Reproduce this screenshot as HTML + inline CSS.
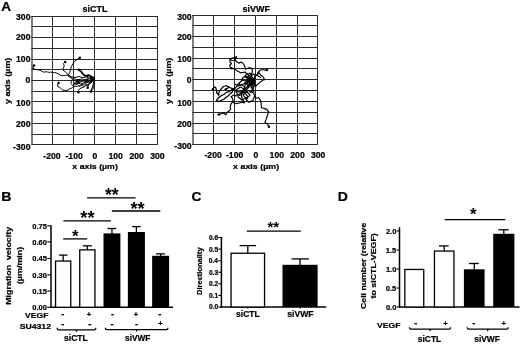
<!DOCTYPE html>
<html><head><meta charset="utf-8"><title>Figure</title>
<style>
html,body{margin:0;padding:0;background:#fff;}
body{width:520px;height:344px;overflow:hidden;}
svg{display:block;font-family:"Liberation Sans",Arial,Helvetica,sans-serif;font-weight:bold;fill:#000;}
text{stroke:#000;stroke-width:0.22px;}
text.ns{stroke:none;}
</style></head><body>
<svg width="520" height="344" viewBox="0 0 520 344">
<rect x="0" y="0" width="520" height="344" fill="#fff"/>
<line x1="32.00" y1="16.00" x2="32.00" y2="145.00" stroke="#555" stroke-width="1.5"/>
<line x1="52.50" y1="16.00" x2="52.50" y2="145.00" stroke="#2a2a2a" stroke-width="1.0"/>
<line x1="73.50" y1="16.00" x2="73.50" y2="145.00" stroke="#2a2a2a" stroke-width="1.0"/>
<line x1="94.50" y1="16.00" x2="94.50" y2="145.00" stroke="#2a2a2a" stroke-width="1.0"/>
<line x1="115.50" y1="16.00" x2="115.50" y2="145.00" stroke="#2a2a2a" stroke-width="1.0"/>
<line x1="136.50" y1="16.00" x2="136.50" y2="145.00" stroke="#2a2a2a" stroke-width="1.0"/>
<line x1="157.50" y1="16.00" x2="157.50" y2="145.00" stroke="#2a2a2a" stroke-width="1.0"/>
<line x1="31.40" y1="16.50" x2="158.00" y2="16.50" stroke="#2a2a2a" stroke-width="1.0"/>
<line x1="31.40" y1="26.50" x2="158.00" y2="26.50" stroke="#2a2a2a" stroke-width="1.0"/>
<line x1="31.40" y1="37.50" x2="158.00" y2="37.50" stroke="#2a2a2a" stroke-width="1.0"/>
<line x1="31.40" y1="48.50" x2="158.00" y2="48.50" stroke="#2a2a2a" stroke-width="1.0"/>
<line x1="31.40" y1="59.50" x2="158.00" y2="59.50" stroke="#2a2a2a" stroke-width="1.0"/>
<line x1="31.40" y1="69.50" x2="158.00" y2="69.50" stroke="#2a2a2a" stroke-width="1.0"/>
<line x1="31.40" y1="80.50" x2="158.00" y2="80.50" stroke="#2a2a2a" stroke-width="1.0"/>
<line x1="31.40" y1="91.50" x2="158.00" y2="91.50" stroke="#2a2a2a" stroke-width="1.0"/>
<line x1="31.40" y1="101.50" x2="158.00" y2="101.50" stroke="#2a2a2a" stroke-width="1.0"/>
<line x1="31.40" y1="112.50" x2="158.00" y2="112.50" stroke="#2a2a2a" stroke-width="1.0"/>
<line x1="31.40" y1="123.50" x2="158.00" y2="123.50" stroke="#2a2a2a" stroke-width="1.0"/>
<line x1="31.40" y1="134.50" x2="158.00" y2="134.50" stroke="#2a2a2a" stroke-width="1.0"/>
<line x1="31.40" y1="144.50" x2="158.00" y2="144.50" stroke="#2a2a2a" stroke-width="1.0"/>
<text x="16.02" y="20.39" font-size="8.4" textLength="14.44" lengthAdjust="spacingAndGlyphs">300</text>
<text x="16.02" y="40.49" font-size="8.4" textLength="14.44" lengthAdjust="spacingAndGlyphs">200</text>
<text x="16.02" y="62.19" font-size="8.4" textLength="14.44" lengthAdjust="spacingAndGlyphs">100</text>
<text x="25.64" y="83.39" font-size="8.4" textLength="4.81" lengthAdjust="spacingAndGlyphs">0</text>
<text x="16.02" y="106.29" font-size="8.4" textLength="14.44" lengthAdjust="spacingAndGlyphs">100</text>
<text x="16.02" y="127.09" font-size="8.4" textLength="14.44" lengthAdjust="spacingAndGlyphs">200</text>
<text x="13.14" y="149.69" font-size="8.4" textLength="17.32" lengthAdjust="spacingAndGlyphs">-300</text>
<text x="43.35" y="158.69" font-size="8.4" textLength="17.32" lengthAdjust="spacingAndGlyphs">-200</text>
<text x="65.45" y="158.69" font-size="8.4" textLength="17.32" lengthAdjust="spacingAndGlyphs">-100</text>
<text x="92.55" y="158.69" font-size="8.4" textLength="4.81" lengthAdjust="spacingAndGlyphs">0</text>
<text x="108.49" y="158.69" font-size="8.4" textLength="14.44" lengthAdjust="spacingAndGlyphs">100</text>
<text x="129.51" y="158.69" font-size="8.4" textLength="14.44" lengthAdjust="spacingAndGlyphs">200</text>
<text x="150.26" y="158.69" font-size="8.4" textLength="14.44" lengthAdjust="spacingAndGlyphs">300</text>
<line x1="193.00" y1="15.00" x2="193.00" y2="145.00" stroke="#555" stroke-width="1.5"/>
<line x1="213.50" y1="15.00" x2="213.50" y2="145.00" stroke="#2a2a2a" stroke-width="1.0"/>
<line x1="234.50" y1="15.00" x2="234.50" y2="145.00" stroke="#2a2a2a" stroke-width="1.0"/>
<line x1="255.50" y1="15.00" x2="255.50" y2="145.00" stroke="#2a2a2a" stroke-width="1.0"/>
<line x1="276.50" y1="15.00" x2="276.50" y2="145.00" stroke="#2a2a2a" stroke-width="1.0"/>
<line x1="297.50" y1="15.00" x2="297.50" y2="145.00" stroke="#2a2a2a" stroke-width="1.0"/>
<line x1="317.50" y1="15.00" x2="317.50" y2="145.00" stroke="#2a2a2a" stroke-width="1.0"/>
<line x1="192.40" y1="15.50" x2="318.00" y2="15.50" stroke="#2a2a2a" stroke-width="1.0"/>
<line x1="192.40" y1="25.50" x2="318.00" y2="25.50" stroke="#2a2a2a" stroke-width="1.0"/>
<line x1="192.40" y1="36.50" x2="318.00" y2="36.50" stroke="#2a2a2a" stroke-width="1.0"/>
<line x1="192.40" y1="47.50" x2="318.00" y2="47.50" stroke="#2a2a2a" stroke-width="1.0"/>
<line x1="192.40" y1="58.50" x2="318.00" y2="58.50" stroke="#2a2a2a" stroke-width="1.0"/>
<line x1="192.40" y1="68.50" x2="318.00" y2="68.50" stroke="#2a2a2a" stroke-width="1.0"/>
<line x1="192.40" y1="79.50" x2="318.00" y2="79.50" stroke="#2a2a2a" stroke-width="1.0"/>
<line x1="192.40" y1="90.50" x2="318.00" y2="90.50" stroke="#2a2a2a" stroke-width="1.0"/>
<line x1="192.40" y1="101.50" x2="318.00" y2="101.50" stroke="#2a2a2a" stroke-width="1.0"/>
<line x1="192.40" y1="112.50" x2="318.00" y2="112.50" stroke="#2a2a2a" stroke-width="1.0"/>
<line x1="192.40" y1="123.50" x2="318.00" y2="123.50" stroke="#2a2a2a" stroke-width="1.0"/>
<line x1="192.40" y1="133.50" x2="318.00" y2="133.50" stroke="#2a2a2a" stroke-width="1.0"/>
<line x1="192.40" y1="144.50" x2="318.00" y2="144.50" stroke="#2a2a2a" stroke-width="1.0"/>
<text x="177.22" y="20.04" font-size="8.4" textLength="14.44" lengthAdjust="spacingAndGlyphs">300</text>
<text x="177.22" y="40.19" font-size="8.4" textLength="14.44" lengthAdjust="spacingAndGlyphs">200</text>
<text x="177.22" y="61.89" font-size="8.4" textLength="14.44" lengthAdjust="spacingAndGlyphs">100</text>
<text x="186.84" y="83.29" font-size="8.4" textLength="4.81" lengthAdjust="spacingAndGlyphs">0</text>
<text x="177.22" y="105.69" font-size="8.4" textLength="14.44" lengthAdjust="spacingAndGlyphs">100</text>
<text x="177.22" y="126.99" font-size="8.4" textLength="14.44" lengthAdjust="spacingAndGlyphs">200</text>
<text x="174.34" y="149.29" font-size="8.4" textLength="17.32" lengthAdjust="spacingAndGlyphs">-300</text>
<text x="204.45" y="157.99" font-size="8.4" textLength="17.32" lengthAdjust="spacingAndGlyphs">-200</text>
<text x="225.95" y="157.99" font-size="8.4" textLength="17.32" lengthAdjust="spacingAndGlyphs">-100</text>
<text x="253.50" y="157.99" font-size="8.4" textLength="4.81" lengthAdjust="spacingAndGlyphs">0</text>
<text x="269.59" y="157.99" font-size="8.4" textLength="14.44" lengthAdjust="spacingAndGlyphs">100</text>
<text x="290.31" y="157.99" font-size="8.4" textLength="14.44" lengthAdjust="spacingAndGlyphs">200</text>
<text x="310.96" y="157.99" font-size="8.4" textLength="14.44" lengthAdjust="spacingAndGlyphs">300</text>
<text x="82.54" y="11.80" font-size="8.2" textLength="24.84" lengthAdjust="spacingAndGlyphs">siCTL</text>
<text x="242.48" y="11.80" font-size="8.2" textLength="27.55" lengthAdjust="spacingAndGlyphs">siVWF</text>
<text x="72.34" y="169.30" font-size="7.9" textLength="45.50" lengthAdjust="spacingAndGlyphs">x axis (µm)</text>
<text x="233.04" y="169.30" font-size="7.9" textLength="46.11" lengthAdjust="spacingAndGlyphs">x axis (µm)</text>
<text x="-104.07" y="0.00" font-size="7.9" textLength="46.42" lengthAdjust="spacingAndGlyphs" transform="translate(10.40,0) rotate(-90)">y axis (µm)</text>
<text x="-104.07" y="0.00" font-size="7.9" textLength="46.42" lengthAdjust="spacingAndGlyphs" transform="translate(171.40,0) rotate(-90)">y axis (µm)</text>
<text x="1.26" y="10.50" font-size="12.2" textLength="9.79" lengthAdjust="spacingAndGlyphs">A</text>
<path d="M94.3,79.0 L92.5,79.4 L91.0,80.3 L89.1,80.6 L87.0,81.5 L85.0,81.2 L83.0,81.0 L80.7,81.5 L79.0,82.0 L77.2,81.5 L76.0,81.0 L73.5,80.0 L71.7,78.5 L70.5,77.5 L69.0,76.7 L67.7,75.4 L65.7,75.3 L64.2,75.6 L62.3,75.7 L60.3,75.2 L58.8,74.2 L57.2,73.3 L56.0,72.7 L54.4,72.6 L52.6,72.5 L50.8,72.1 L49.4,72.4 L47.8,72.0 L46.5,71.8 L45.0,71.9 L43.4,72.2 L41.5,70.9 L39.5,70.2 L37.3,69.6 L35.7,69.5 L34.3,68.8 L32.6,68.3 L33.2,66.9 L34.0,65.4" fill="none" stroke="#000" stroke-width="1.0" stroke-linejoin="round"/>
<circle cx="34.0" cy="65.4" r="1.25" fill="#000"/>
<path d="M94.3,79.0 L92.6,78.1 L91.0,77.5 L89.2,77.3 L87.0,76.8 L84.8,77.2 L83.0,77.5 L81.0,77.3 L79.0,76.5 L77.2,76.9 L75.0,77.5 L73.3,77.0 L71.0,77.0 L69.5,76.2 L68.1,75.1 L69.6,72.8 L70.0,71.2 L70.8,69.7 L70.8,68.1 L71.5,66.2 L72.5,64.9 L73.1,63.5 L74.6,61.2 L76.2,60.1 L77.3,59.3 L79.8,57.8" fill="none" stroke="#000" stroke-width="1.0" stroke-linejoin="round"/>
<circle cx="79.8" cy="57.8" r="1.25" fill="#000"/>
<path d="M94.3,79.0 L92.3,79.1 L90.0,79.0 L88.1,79.1 L86.0,79.3 L84.2,79.5 L82.0,79.0 L80.0,79.4 L78.0,79.5 L76.2,79.4 L75.0,79.0 L73.4,78.5 L71.5,77.4 L70.4,76.1 L68.8,75.1 L66.9,73.2 L65.7,72.3 L64.6,71.2 L62.7,69.7 L63.5,67.8 L64.2,65.8 L63.5,63.5 L65.2,61.9" fill="none" stroke="#000" stroke-width="1.0" stroke-linejoin="round"/>
<circle cx="65.2" cy="61.9" r="1.25" fill="#000"/>
<path d="M94.3,79.0 L93.8,77.8 L92.0,77.0 L90.8,76.2 L88.5,75.1 L86.5,75.8 L84.6,75.5 L82.7,73.9 L81.2,71.6 L78.8,69.7" fill="none" stroke="#000" stroke-width="1.8" stroke-linejoin="round"/>
<circle cx="78.8" cy="69.7" r="1.25" fill="#000"/>
<path d="M94.3,79.0 L92.6,79.4 L91.1,80.5 L90.0,81.0 L87.7,81.8 L86.0,83.0 L83.9,84.0 L82.0,84.5 L79.7,85.2 L78.0,86.0 L76.4,86.4 L74.8,86.3 L72.5,87.5 L71.3,88.2 L69.4,89.0 L68.1,90.0 L66.3,90.5 L64.4,90.3 L62.9,90.2 L61.6,89.4 L60.5,88.2 L59.5,87.2 L57.9,86.7 L57.5,84.4 L58.6,83.1" fill="none" stroke="#000" stroke-width="1.0" stroke-linejoin="round"/>
<circle cx="58.6" cy="83.1" r="1.25" fill="#000"/>
<path d="M94.3,79.0 L92.9,80.3 L92.0,82.0 L90.5,83.0 L89.4,83.8 L88.0,85.0 L85.7,85.9 L84.0,87.0 L81.9,87.8 L80.0,88.5 L78.5,90.5 L78.4,92.2" fill="none" stroke="#000" stroke-width="1.0" stroke-linejoin="round"/>
<circle cx="78.4" cy="92.2" r="1.25" fill="#000"/>
<path d="M94.3,79.0 L94.2,81.1 L93.5,83.0 L93.0,85.1 L92.5,87.0 L91.5,89.0 L90.8,91.5" fill="none" stroke="#000" stroke-width="1.0" stroke-linejoin="round"/>
<circle cx="90.8" cy="91.5" r="1.25" fill="#000"/>
<path d="M94.3,79.0 L94.3,80.4 L94.3,82.5 L93.9,84.0 L93.9,85.9 L93.2,87.4 L93.0,89.2 L91.0,91.3" fill="none" stroke="#000" stroke-width="1.0" stroke-linejoin="round"/>
<path d="M94.3,79.0 L92.4,80.3 L91.0,81.5 L89.7,82.4 L89.0,84.0 L88.1,85.6 L87.7,87.7" fill="none" stroke="#000" stroke-width="1.1" stroke-linejoin="round"/>
<circle cx="87.7" cy="87.7" r="1.25" fill="#000"/>
<path d="M94.3,79.0 L92.8,79.7 L91.5,81.0 L89.7,81.5 L88.5,82.5 L86.5,82.2 L85.0,82.0 L83.2,83.0 L82.0,83.5 L80.6,83.0 L79.0,83.0 L77.0,84.5 L75.0,83.5" fill="none" stroke="#000" stroke-width="1.0" stroke-linejoin="round"/>
<circle cx="75.0" cy="83.5" r="1.25" fill="#000"/>
<path d="M94.3,79.0 L93.0,80.4 L92.0,82.0 L90.4,83.0 L89.0,84.5 L87.7,84.6 L86.0,84.0 L84.7,85.0 L83.5,86.0 L81.0,85.5 L79.0,87.0" fill="none" stroke="#000" stroke-width="0.9" stroke-linejoin="round"/>
<path d="M80.0,79.5 L78.0,81.5 L79.5,83.0 L77.5,83.5 L76.5,81.5 L78.0,80.0" fill="none" stroke="#000" stroke-width="1.5" stroke-linejoin="round"/>
<path d="M94.3,79.0 L92.5,77.5 L91.0,79.0 L92.0,80.5 L90.5,78.0" fill="none" stroke="#000" stroke-width="1.4000000000000001" stroke-linejoin="round"/>
<path d="M88.5,75.1 L87.0,77.0 L88.5,79.0 L86.5,80.5" fill="none" stroke="#000" stroke-width="1.0" stroke-linejoin="round"/>
<circle cx="86.5" cy="80.5" r="1.25" fill="#000"/>
<path d="M74.8,86.3 L72.5,85.5 L71.4,83.7 L70.9,82.5 L72.0,80.0" fill="none" stroke="#000" stroke-width="0.9" stroke-linejoin="round"/>
<path d="M253.2,80.7 L252.5,78.9 L252.3,77.3 L251.5,76.0 L251.5,74.4 L252.3,72.0 L252.3,69.3 L250.4,67.8 L248.9,67.9 L247.3,68.5 L245.4,69.3 L245.0,67.0 L243.8,64.3 L241.9,62.4 L240.4,62.4 L238.8,63.1 L236.5,61.6 L235.0,59.7 L235.8,58.5 L236.5,56.6 L235.3,57.4 L233.5,57.8 L231.6,58.4 L230.0,59.3 L230.0,62.0 L231.5,63.5 L229.6,65.5 L230.4,67.4 L231.5,68.2" fill="none" stroke="#000" stroke-width="1.15" stroke-linejoin="round"/>
<circle cx="231.5" cy="68.2" r="1.25" fill="#000"/>
<path d="M253.2,80.7 L251.3,80.3 L250.0,79.5 L248.5,79.0 L247.0,78.0 L244.6,76.6 L246.5,74.3 L245.4,72.0 L243.1,72.4 L240.4,72.8 L238.9,71.8 L237.7,71.2 L236.6,70.6 L235.0,69.3 L232.3,68.5" fill="none" stroke="#000" stroke-width="1.15" stroke-linejoin="round"/>
<path d="M230.0,59.3 L232.0,60.5 L233.8,60.3 L235.0,59.7" fill="none" stroke="#000" stroke-width="1.15" stroke-linejoin="round"/>
<path d="M253.2,80.7 L254.1,79.3 L254.5,77.5 L255.5,76.3 L256.9,75.1 L257.7,73.0 L258.8,71.6 L260.3,70.1 L261.5,69.7 L263.4,69.7 L264.9,70.1 L266.9,70.1" fill="none" stroke="#000" stroke-width="1.15" stroke-linejoin="round"/>
<circle cx="266.9" cy="70.1" r="1.25" fill="#000"/>
<path d="M253.2,80.7 L254.2,82.3 L254.5,84.0 L256.5,85.8 L257.5,84.2 L258.8,83.5 L260.0,82.0 L261.9,81.2 L263.0,80.0 L264.9,79.7 L263.5,77.8 L262.6,76.2 L261.0,75.5 L260.3,74.3 L259.0,73.0 L258.8,71.6" fill="none" stroke="#000" stroke-width="1.15" stroke-linejoin="round"/>
<path d="M258.8,71.6 L258.2,73.7 L256.9,75.1 L259.0,76.5 L261.0,77.4" fill="none" stroke="#000" stroke-width="1.05" stroke-linejoin="round"/>
<path d="M253.2,80.7 L251.8,80.7 L249.5,80.7 L248.0,81.0 L246.2,80.6 L245.0,81.0 L243.7,80.5 L241.8,80.3 L240.4,82.1 L238.8,83.4 L237.4,84.9 L237.0,86.3 L235.8,87.4 L234.5,88.8 L233.4,88.8 L231.2,88.2 L229.5,87.2 L227.9,86.7 L226.5,85.7 L225.3,86.0 L223.4,86.5 L222.1,88.1 L221.0,89.0 L220.2,90.2 L219.0,92.0 L218.6,93.4 L218.8,95.3 L218.1,94.4 L216.8,93.0 L216.5,90.3 L215.7,87.6 L213.8,86.8 L213.0,89.2" fill="none" stroke="#000" stroke-width="1.25" stroke-linejoin="round"/>
<circle cx="213.0" cy="89.2" r="1.25" fill="#000"/>
<path d="M253.2,80.7 L251.2,81.2 L250.2,81.4 L248.1,81.6 L246.5,81.8 L245.4,83.4 L244.9,85.7 L244.7,87.4 L243.8,89.1 L243.1,90.6 L242.6,91.8 L241.3,91.7 L239.3,91.8 L238.0,92.0 L236.3,91.0 L234.7,89.8 L233.4,88.8 L231.0,90.3 L228.8,91.6 L227.2,92.2 L225.7,92.9 L224.4,94.1 L222.9,94.9 L221.5,95.3 L220.3,96.6 L219.0,97.4 L217.7,98.8 L216.5,100.3 L218.8,101.5 L219.9,101.1 L221.6,100.1 L223.4,99.5 L224.8,98.5 L225.8,97.5 L227.2,96.5 L228.4,95.8 L229.2,94.6 L230.5,93.4 L231.8,92.6 L232.8,90.7 L233.4,88.8" fill="none" stroke="#000" stroke-width="1.25" stroke-linejoin="round"/>
<path d="M229.5,87.2 L227.0,88.5 L225.7,89.5" fill="none" stroke="#000" stroke-width="1.25" stroke-linejoin="round"/>
<circle cx="225.7" cy="89.5" r="1.25" fill="#000"/>
<path d="M253.2,80.7 L251.8,82.0 L250.7,82.9 L249.0,84.0 L248.1,85.3 L247.0,86.8 L246.0,88.0 L244.9,89.6 L243.9,91.4 L243.0,92.9 L241.8,94.2 L240.3,94.9 L238.0,96.0 L236.0,95.9 L234.0,95.0 L232.8,95.6 L231.1,96.8 L232.6,98.3 L233.0,101.0 L231.8,102.9 L230.8,104.4 L230.3,106.0 L230.2,107.3 L230.7,109.1 L229.2,111.0 L226.8,112.5 L226.5,114.1 L225.3,114.8 L224.2,112.9 L221.5,113.7 L218.8,114.6" fill="none" stroke="#000" stroke-width="1.15" stroke-linejoin="round"/>
<circle cx="218.8" cy="114.6" r="1.25" fill="#000"/>
<path d="M253.2,80.7 L251.5,82.5 L250.5,84.0 L248.5,85.5 L247.4,87.1 L245.6,88.3 L244.6,89.4 L243.7,90.6 L242.8,92.8 L241.5,94.0 L241.5,96.2 L242.0,97.6 L242.3,99.4 L243.4,101.0 L243.8,102.2" fill="none" stroke="#000" stroke-width="1.25" stroke-linejoin="round"/>
<circle cx="243.8" cy="102.2" r="1.25" fill="#000"/>
<path d="M233.0,101.0 L233.5,102.3 L234.5,103.7 L236.7,103.4 L238.8,103.3 L240.1,102.8 L241.8,102.5 L243.8,102.2" fill="none" stroke="#000" stroke-width="1.15" stroke-linejoin="round"/>
<path d="M253.2,80.7 L252.6,81.6 L251.6,83.3 L250.4,84.5 L250.0,86.0 L248.6,87.5 L247.0,89.0 L245.5,91.1 L244.6,92.5 L245.9,94.1 L246.4,94.8 L247.7,96.3 L246.4,98.1 L245.8,99.4 L247.0,100.5 L248.5,102.1 L250.0,101.9 L251.8,100.8 L253.1,100.5 L253.3,99.2 L254.2,97.3 L254.6,95.5" fill="none" stroke="#000" stroke-width="1.15" stroke-linejoin="round"/>
<path d="M253.2,80.7 L252.8,82.5 L253.0,85.0 L253.4,86.6 L253.1,88.7 L253.7,90.3 L253.8,91.7 L253.9,93.9 L254.6,95.5 L255.0,97.1 L256.1,98.2 L258.5,97.5 L259.4,98.7 L260.4,100.2 L260.8,102.0 L261.1,103.2 L261.1,104.5 L261.4,106.1 L261.5,107.8 L262.7,108.0 L264.6,108.6 L266.9,109.4 L267.5,110.5 L268.9,112.1 L267.9,113.6 L267.3,115.5 L266.9,117.3 L266.1,119.4 L265.6,120.7 L265.0,122.5 L267.3,124.0 L268.0,125.0 L268.9,126.7" fill="none" stroke="#000" stroke-width="1.15" stroke-linejoin="round"/>
<circle cx="268.9" cy="126.7" r="1.25" fill="#000"/>
<path d="M253.2,80.7 L251.4,79.0 L250.0,78.0 L248.0,80.0 L248.9,81.5 L249.5,83.0 L252.0,84.5 L253.0,83.5 L254.5,82.5 L254.6,80.4 L254.0,79.0 L251.5,77.5 L249.5,75.5 L252.0,74.0" fill="none" stroke="#000" stroke-width="1.25" stroke-linejoin="round"/>
<path d="M253.2,80.7 L253.5,83.0 L252.5,84.2 L251.0,85.5 L250.0,84.3 L249.0,82.5 L249.9,81.3 L251.0,80.0 L252.7,81.1 L254.0,81.5 L254.6,83.3 L255.5,84.5 L254.4,85.9 L253.0,87.0 L250.5,88.0" fill="none" stroke="#000" stroke-width="1.25" stroke-linejoin="round"/>
<path d="M253.2,80.7 L251.0,79.0 L249.0,77.0 L247.9,78.1 L247.0,79.5 L248.5,82.0 L246.5,84.0 L248.5,86.0 L249.1,84.5 L250.5,83.5" fill="none" stroke="#000" stroke-width="1.25" stroke-linejoin="round"/>
<path d="M253.2,80.7 L254.0,78.0 L255.5,75.5 L253.5,74.0 L251.5,75.5 L250.0,73.0 L248.0,74.5 L246.5,73.0" fill="none" stroke="#000" stroke-width="1.15" stroke-linejoin="round"/>
<path d="M253.2,80.7 L252.0,82.0 L252.5,84.0 L251.5,86.5 L252.5,89.0 L251.5,91.0 L253.0,93.0" fill="none" stroke="#000" stroke-width="1.25" stroke-linejoin="round"/>
<path d="M241.8,80.3 L242.1,79.1 L243.0,77.5 L245.5,76.0 L247.5,77.0 L249.0,75.0" fill="none" stroke="#000" stroke-width="1.25" stroke-linejoin="round"/>
<path d="M238.8,83.4 L240.5,85.5 L241.8,84.5 L243.5,84.0 L245.5,82.5 L247.5,84.0" fill="none" stroke="#000" stroke-width="1.25" stroke-linejoin="round"/>
<path d="M244.6,89.4 L246.5,91.5 L249.0,90.5 L250.5,92.5 L252.5,91.5" fill="none" stroke="#000" stroke-width="1.15" stroke-linejoin="round"/>
<path d="M236.0,90.0 L237.0,89.3 L239.0,88.1 L240.0,87.0 L241.8,87.8 L244.0,89.0 L242.8,90.3 L241.7,91.6 L241.0,93.0 L238.8,94.4 L237.0,95.0 L237.0,93.4 L236.1,92.0 L236.0,90.0" fill="none" stroke="#000" stroke-width="1.15" stroke-linejoin="round"/>
<path d="M243.0,95.0 L244.2,93.9 L245.3,92.9 L247.0,92.0 L248.5,93.5 L250.0,95.0 L248.8,96.3 L247.6,97.5 L247.0,99.0 L245.3,97.6 L244.0,96.0 L243.0,95.0" fill="none" stroke="#000" stroke-width="1.15" stroke-linejoin="round"/>
<path d="M238.0,97.0 L239.2,97.8 L240.7,99.0 L242.0,100.0 L243.5,99.3 L244.8,98.6 L246.0,97.5" fill="none" stroke="#000" stroke-width="1.15" stroke-linejoin="round"/>
<path d="M235.0,84.0 L236.4,84.9 L238.0,86.0 L239.9,85.0 L241.0,84.5 L242.7,85.6 L244.0,86.5" fill="none" stroke="#000" stroke-width="1.15" stroke-linejoin="round"/>
<circle cx="253.2" cy="80.7" r="1.8" fill="#000"/>
<text x="1.26" y="200.70" font-size="12.2" textLength="10.18" lengthAdjust="spacingAndGlyphs">B</text>
<line x1="51.00" y1="225.20" x2="51.00" y2="308.05" stroke="#000" stroke-width="1.5"/>
<line x1="50.25" y1="307.30" x2="173.10" y2="307.30" stroke="#000" stroke-width="1.5"/>
<line x1="47.30" y1="307.30" x2="51.00" y2="307.30" stroke="#000" stroke-width="1.1"/>
<text x="32.31" y="310.13" font-size="7.5" textLength="14.60" lengthAdjust="spacingAndGlyphs">0.00</text>
<line x1="47.30" y1="291.00" x2="51.00" y2="291.00" stroke="#000" stroke-width="1.1"/>
<text x="32.22" y="293.83" font-size="7.5" textLength="14.60" lengthAdjust="spacingAndGlyphs">0.15</text>
<line x1="47.30" y1="274.85" x2="51.00" y2="274.85" stroke="#000" stroke-width="1.1"/>
<text x="32.31" y="277.68" font-size="7.5" textLength="14.60" lengthAdjust="spacingAndGlyphs">0.30</text>
<line x1="47.30" y1="258.50" x2="51.00" y2="258.50" stroke="#000" stroke-width="1.1"/>
<text x="32.22" y="261.33" font-size="7.5" textLength="14.60" lengthAdjust="spacingAndGlyphs">0.45</text>
<line x1="47.30" y1="241.90" x2="51.00" y2="241.90" stroke="#000" stroke-width="1.1"/>
<text x="32.31" y="244.73" font-size="7.5" textLength="14.60" lengthAdjust="spacingAndGlyphs">0.60</text>
<line x1="47.30" y1="225.80" x2="51.00" y2="225.80" stroke="#000" stroke-width="1.1"/>
<text x="32.22" y="228.63" font-size="7.5" textLength="14.60" lengthAdjust="spacingAndGlyphs">0.75</text>
<line x1="63.15" y1="260.90" x2="63.15" y2="255.10" stroke="#000" stroke-width="1.3"/>
<line x1="59.10" y1="255.10" x2="67.50" y2="255.10" stroke="#000" stroke-width="1.3"/>
<rect x="55.55" y="261.05" width="15.20" height="46.25" fill="#fff" stroke="#000" stroke-width="1.3"/>
<line x1="87.35" y1="249.70" x2="87.35" y2="245.85" stroke="#000" stroke-width="1.3"/>
<line x1="82.90" y1="245.85" x2="91.85" y2="245.85" stroke="#000" stroke-width="1.3"/>
<rect x="79.75" y="249.85" width="15.20" height="57.45" fill="#fff" stroke="#000" stroke-width="1.3"/>
<line x1="111.95" y1="233.90" x2="111.95" y2="228.50" stroke="#000" stroke-width="1.3"/>
<line x1="107.50" y1="228.50" x2="116.30" y2="228.50" stroke="#000" stroke-width="1.3"/>
<rect x="103.50" y="233.40" width="16.90" height="73.90" fill="#000"/>
<line x1="136.38" y1="232.50" x2="136.38" y2="226.60" stroke="#000" stroke-width="1.3"/>
<line x1="132.15" y1="226.60" x2="140.60" y2="226.60" stroke="#000" stroke-width="1.3"/>
<rect x="127.85" y="232.00" width="17.05" height="75.30" fill="#000"/>
<line x1="160.62" y1="256.30" x2="160.62" y2="253.85" stroke="#000" stroke-width="1.3"/>
<line x1="156.00" y1="253.85" x2="164.90" y2="253.85" stroke="#000" stroke-width="1.3"/>
<rect x="152.15" y="255.80" width="16.95" height="51.50" fill="#000"/>
<line x1="63.20" y1="238.90" x2="87.20" y2="238.90" stroke="#000" stroke-width="1.3"/>
<text class="ns" x="71.88" y="242.00" font-size="17" textLength="6.62" lengthAdjust="spacingAndGlyphs">*</text>
<line x1="63.40" y1="220.90" x2="110.90" y2="220.90" stroke="#000" stroke-width="1.3"/>
<text class="ns" x="80.34" y="223.84" font-size="17.5" textLength="14.28" lengthAdjust="spacingAndGlyphs">**</text>
<line x1="87.15" y1="197.85" x2="135.60" y2="197.85" stroke="#000" stroke-width="1.3"/>
<text class="ns" x="104.95" y="201.14" font-size="17.5" textLength="13.78" lengthAdjust="spacingAndGlyphs">**</text>
<line x1="111.85" y1="211.00" x2="160.30" y2="211.00" stroke="#000" stroke-width="1.3"/>
<text class="ns" x="130.44" y="214.64" font-size="17.5" textLength="14.28" lengthAdjust="spacingAndGlyphs">**</text>
<text x="25.14" y="318.20" font-size="8.1" textLength="23.27" lengthAdjust="spacingAndGlyphs">VEGF</text>
<text x="19.65" y="328.50" font-size="8.1" textLength="31.40" lengthAdjust="spacingAndGlyphs">SU4312</text>
<text x="61.35" y="317.36" font-size="8.5" textLength="3.11" lengthAdjust="spacingAndGlyphs">-</text>
<text x="86.78" y="316.82" font-size="7.6" textLength="4.44" lengthAdjust="spacingAndGlyphs">+</text>
<text x="111.05" y="317.36" font-size="8.5" textLength="3.11" lengthAdjust="spacingAndGlyphs">-</text>
<text x="133.63" y="316.82" font-size="7.6" textLength="4.44" lengthAdjust="spacingAndGlyphs">+</text>
<text x="158.15" y="317.36" font-size="8.5" textLength="3.11" lengthAdjust="spacingAndGlyphs">-</text>
<text x="61.15" y="327.06" font-size="8.5" textLength="3.11" lengthAdjust="spacingAndGlyphs">-</text>
<text x="88.25" y="327.06" font-size="8.5" textLength="3.11" lengthAdjust="spacingAndGlyphs">-</text>
<text x="110.45" y="327.06" font-size="8.5" textLength="3.11" lengthAdjust="spacingAndGlyphs">-</text>
<text x="135.05" y="327.06" font-size="8.5" textLength="3.11" lengthAdjust="spacingAndGlyphs">-</text>
<text x="158.28" y="326.42" font-size="7.6" textLength="4.44" lengthAdjust="spacingAndGlyphs">+</text>
<path d="M57.2,327.8 Q57.2,329.8 58.6,329.8 L94.5,329.8 Q95.9,329.8 95.9,327.8 M76.5,329.8 L76.5,331.7" fill="none" stroke="#000" stroke-width="1.3"/>
<path d="M105.3,327.7 Q105.3,329.7 106.7,329.7 L166.6,329.7 Q168.0,329.7 168.0,327.7 M136.6,329.7 L136.6,331.59999999999997" fill="none" stroke="#000" stroke-width="1.3"/>
<text x="64.10" y="341.00" font-size="8.2" textLength="23.66" lengthAdjust="spacingAndGlyphs">siCTL</text>
<text x="125.11" y="341.00" font-size="8.2" textLength="25.19" lengthAdjust="spacingAndGlyphs">siVWF</text>
<text x="-304.79" y="0.00" font-size="7.9" textLength="77.94" lengthAdjust="spacingAndGlyphs" transform="translate(10.60,0) rotate(-90)">Migration  velocity</text>
<text x="-284.25" y="0.00" font-size="7.9" textLength="37.60" lengthAdjust="spacingAndGlyphs" transform="translate(22.00,0) rotate(-90)">(µm/min)</text>
<text x="191.54" y="200.80" font-size="12.2" textLength="9.94" lengthAdjust="spacingAndGlyphs">C</text>
<line x1="221.40" y1="236.90" x2="221.40" y2="307.75" stroke="#000" stroke-width="1.5"/>
<line x1="220.65" y1="307.00" x2="326.30" y2="307.00" stroke="#000" stroke-width="1.5"/>
<line x1="218.30" y1="307.00" x2="221.40" y2="307.00" stroke="#000" stroke-width="1.1"/>
<text x="209.00" y="309.47" font-size="6.6" textLength="9.17" lengthAdjust="spacingAndGlyphs">0.0</text>
<line x1="218.30" y1="295.42" x2="221.40" y2="295.42" stroke="#000" stroke-width="1.1"/>
<text x="208.91" y="297.89" font-size="6.6" textLength="9.17" lengthAdjust="spacingAndGlyphs">0.1</text>
<line x1="218.30" y1="283.84" x2="221.40" y2="283.84" stroke="#000" stroke-width="1.1"/>
<text x="208.99" y="286.31" font-size="6.6" textLength="9.17" lengthAdjust="spacingAndGlyphs">0.2</text>
<line x1="218.30" y1="272.26" x2="221.40" y2="272.26" stroke="#000" stroke-width="1.1"/>
<text x="208.96" y="274.73" font-size="6.6" textLength="9.17" lengthAdjust="spacingAndGlyphs">0.3</text>
<line x1="218.30" y1="260.68" x2="221.40" y2="260.68" stroke="#000" stroke-width="1.1"/>
<text x="208.76" y="263.15" font-size="6.6" textLength="9.17" lengthAdjust="spacingAndGlyphs">0.4</text>
<line x1="218.30" y1="249.10" x2="221.40" y2="249.10" stroke="#000" stroke-width="1.1"/>
<text x="208.91" y="251.57" font-size="6.6" textLength="9.17" lengthAdjust="spacingAndGlyphs">0.5</text>
<line x1="218.30" y1="237.52" x2="221.40" y2="237.52" stroke="#000" stroke-width="1.1"/>
<text x="208.96" y="239.99" font-size="6.6" textLength="9.17" lengthAdjust="spacingAndGlyphs">0.6</text>
<line x1="247.80" y1="253.10" x2="247.80" y2="245.60" stroke="#000" stroke-width="1.3"/>
<line x1="239.60" y1="245.60" x2="256.10" y2="245.60" stroke="#000" stroke-width="1.3"/>
<rect x="231.05" y="253.25" width="33.50" height="53.75" fill="#fff" stroke="#000" stroke-width="1.3"/>
<line x1="300.05" y1="265.30" x2="300.05" y2="258.90" stroke="#000" stroke-width="1.3"/>
<line x1="291.50" y1="258.90" x2="308.90" y2="258.90" stroke="#000" stroke-width="1.3"/>
<rect x="282.50" y="264.80" width="35.10" height="42.20" fill="#000"/>
<line x1="247.70" y1="307.00" x2="247.70" y2="308.40" stroke="#000" stroke-width="1.1"/>
<line x1="300.20" y1="307.00" x2="300.20" y2="308.40" stroke="#000" stroke-width="1.1"/>
<line x1="246.90" y1="231.20" x2="300.80" y2="231.20" stroke="#000" stroke-width="1.3"/>
<text class="ns" x="267.46" y="231.53" font-size="15.3" textLength="11.66" lengthAdjust="spacingAndGlyphs">**</text>
<text x="236.10" y="317.40" font-size="8.2" textLength="23.46" lengthAdjust="spacingAndGlyphs">siCTL</text>
<text x="287.30" y="317.40" font-size="8.2" textLength="26.32" lengthAdjust="spacingAndGlyphs">siVWF</text>
<text x="-295.00" y="0.00" font-size="7.5" textLength="47.64" lengthAdjust="spacingAndGlyphs" transform="translate(202.00,0) rotate(-90)">Directionality</text>
<text x="337.66" y="200.80" font-size="12.2" textLength="10.13" lengthAdjust="spacingAndGlyphs">D</text>
<line x1="399.50" y1="227.30" x2="399.50" y2="307.75" stroke="#000" stroke-width="1.5"/>
<line x1="398.75" y1="307.00" x2="519.50" y2="307.00" stroke="#000" stroke-width="1.5"/>
<line x1="396.60" y1="307.00" x2="399.50" y2="307.00" stroke="#000" stroke-width="1.1"/>
<text x="385.88" y="309.78" font-size="7.5" textLength="10.43" lengthAdjust="spacingAndGlyphs">0.0</text>
<line x1="396.60" y1="288.00" x2="399.50" y2="288.00" stroke="#000" stroke-width="1.1"/>
<text x="385.78" y="290.78" font-size="7.5" textLength="10.43" lengthAdjust="spacingAndGlyphs">0.5</text>
<line x1="396.60" y1="269.00" x2="399.50" y2="269.00" stroke="#000" stroke-width="1.1"/>
<text x="385.88" y="271.78" font-size="7.5" textLength="10.43" lengthAdjust="spacingAndGlyphs">1.0</text>
<line x1="396.60" y1="250.00" x2="399.50" y2="250.00" stroke="#000" stroke-width="1.1"/>
<text x="385.78" y="252.78" font-size="7.5" textLength="10.43" lengthAdjust="spacingAndGlyphs">1.5</text>
<line x1="396.60" y1="231.00" x2="399.50" y2="231.00" stroke="#000" stroke-width="1.1"/>
<text x="385.88" y="233.78" font-size="7.5" textLength="10.43" lengthAdjust="spacingAndGlyphs">2.0</text>
<rect x="404.85" y="269.45" width="18.90" height="37.55" fill="#fff" stroke="#000" stroke-width="1.3"/>
<line x1="444.20" y1="250.90" x2="444.20" y2="245.90" stroke="#000" stroke-width="1.3"/>
<line x1="439.00" y1="245.90" x2="448.70" y2="245.90" stroke="#000" stroke-width="1.3"/>
<rect x="434.45" y="251.05" width="19.50" height="55.95" fill="#fff" stroke="#000" stroke-width="1.3"/>
<line x1="474.25" y1="269.80" x2="474.25" y2="263.50" stroke="#000" stroke-width="1.3"/>
<line x1="468.90" y1="263.50" x2="478.80" y2="263.50" stroke="#000" stroke-width="1.3"/>
<rect x="463.90" y="269.30" width="20.70" height="37.70" fill="#000"/>
<line x1="503.80" y1="234.30" x2="503.80" y2="229.80" stroke="#000" stroke-width="1.3"/>
<line x1="498.40" y1="229.80" x2="508.70" y2="229.80" stroke="#000" stroke-width="1.3"/>
<rect x="493.20" y="233.80" width="21.20" height="73.20" fill="#000"/>
<line x1="444.70" y1="219.55" x2="505.30" y2="219.55" stroke="#000" stroke-width="1.3"/>
<text class="ns" x="470.08" y="219.60" font-size="17" textLength="6.62" lengthAdjust="spacingAndGlyphs">*</text>
<text x="377.14" y="327.90" font-size="8.1" textLength="23.27" lengthAdjust="spacingAndGlyphs">VEGF</text>
<text x="414.15" y="325.81" font-size="8.5" textLength="3.11" lengthAdjust="spacingAndGlyphs">-</text>
<text x="443.28" y="325.52" font-size="7.6" textLength="4.44" lengthAdjust="spacingAndGlyphs">+</text>
<text x="472.30" y="325.81" font-size="8.5" textLength="3.11" lengthAdjust="spacingAndGlyphs">-</text>
<text x="501.63" y="325.52" font-size="7.6" textLength="4.44" lengthAdjust="spacingAndGlyphs">+</text>
<path d="M409.5,327.2 Q409.5,329.2 410.9,329.2 L449.1,329.2 Q450.5,329.2 450.5,327.2 M430.0,329.2 L430.0,331.09999999999997" fill="none" stroke="#000" stroke-width="1.3"/>
<path d="M467.2,327.2 Q467.2,329.2 468.59999999999997,329.2 L506.8,329.2 Q508.2,329.2 508.2,327.2 M487.7,329.2 L487.7,331.09999999999997" fill="none" stroke="#000" stroke-width="1.3"/>
<text x="417.80" y="341.50" font-size="8.2" textLength="23.46" lengthAdjust="spacingAndGlyphs">siCTL</text>
<text x="474.31" y="341.50" font-size="8.2" textLength="25.60" lengthAdjust="spacingAndGlyphs">siVWF</text>
<text x="-308.96" y="0.00" font-size="7.7" textLength="86.25" lengthAdjust="spacingAndGlyphs" transform="translate(366.10,0) rotate(-90)">Cell number (relative</text>
<text x="-298.41" y="0.00" font-size="7.7" textLength="65.15" lengthAdjust="spacingAndGlyphs" transform="translate(376.00,0) rotate(-90)">to siCTL-VEGF)</text>
</svg>
</body></html>
